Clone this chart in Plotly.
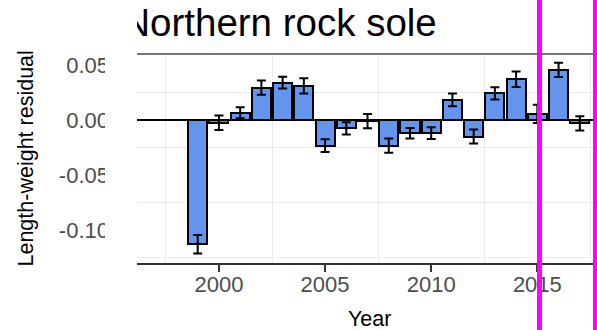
import plotly.graph_objects as go

years = list(range(1999, 2018))
residuals = [-0.113, -0.0025, 0.0066, 0.0294, 0.034, 0.031, -0.0233, -0.0076, -0.001,
             -0.0233, -0.012, -0.012, 0.0182, -0.015, 0.0242, 0.037, 0.0055, 0.0455, -0.003]
errors = [0.0084, 0.0065, 0.005, 0.0064, 0.0053, 0.007, 0.0058, 0.0055, 0.0065,
          0.0064, 0.0048, 0.0053, 0.0058, 0.0064, 0.0056, 0.007, 0.0083, 0.0065, 0.0065]
x_ticks = [2000, 2005, 2010, 2015]
y_ticks = [0.05, 0.0, -0.05, -0.10]
y_ticktext = ["0.05", "0.00", "-0.05", "-0.10"]
x_minor = [1997.5, 2002.5, 2007.5, 2012.5, 2017.5]
y_minor = [0.025, -0.025, -0.075, -0.125]
title_text = "Northern rock sole"

FONT = "Liberation Sans, Arial, sans-serif"

fig = go.Figure()
fig.add_trace(go.Bar(
    x=years, y=residuals, width=0.9,
    marker=dict(color="#6495ED", line=dict(color="black", width=2)),
    error_y=dict(type="data", array=errors, visible=True, color="black",
                 thickness=2, width=4.5),
    xaxis="x", yaxis="y", showlegend=False,
))
# Title as clipped text inside an overlay axis (so the left of the N is cut)
fig.add_trace(go.Scatter(
    x=[142.5], y=[27], mode="text", text=[title_text], textposition="middle center",
    textfont=dict(family=FONT, size=38.5, color="black"), cliponaxis=True,
    xaxis="x2", yaxis="y2", showlegend=False, hoverinfo="skip",
))

fig.update_layout(
    width=597, height=330, autosize=False,
    margin=dict(l=137, r=0, t=0, b=67, pad=0),
    paper_bgcolor="white", plot_bgcolor="white",
    font=dict(family=FONT),
    bargap=0,
    xaxis=dict(
        domain=[0, 1], range=[1996.14, 2017.81], anchor="y",
        tickmode="array", tickvals=x_ticks, ticks="outside", ticklen=7, tickwidth=2,
        tickcolor="#333333", showline=True, linecolor="#333333", linewidth=2,
        showgrid=False, zeroline=False,
        tickfont=dict(family=FONT, size=22, color="#4d4d4d"),
        ticklabelstandoff=-6,
        minor=dict(tickmode="array", tickvals=x_minor, showgrid=True,
                   gridcolor="#ebebeb", gridwidth=1.2, ticks=""),
    ),
    yaxis=dict(
        domain=[0, 209 / 263], range=[-0.13, 0.06], anchor="x",
        tickmode="array", tickvals=y_ticks, ticktext=y_ticktext, ticks="",
        showline=False, showgrid=False,
        zeroline=True, zerolinecolor="black", zerolinewidth=2,
        tickfont=dict(family=FONT, size=22, color="#4d4d4d"),
        ticklabelstandoff=27,
        minor=dict(tickmode="array", tickvals=y_minor, showgrid=True,
                   gridcolor="#ebebeb", gridwidth=1.2, ticks=""),
    ),
    xaxis2=dict(domain=[0, 1], range=[0, 460], anchor="y2", visible=False, fixedrange=True),
    yaxis2=dict(domain=[210 / 263, 1], range=[0, 53], anchor="x2", visible=False, fixedrange=True),
    annotations=[
        dict(text="Length-weight residual", textangle=-90, xref="paper", yref="paper",
             x=(25 - 137) / 460, y=(263 - 158.5) / 263, xanchor="center", yanchor="middle",
             showarrow=False, font=dict(family=FONT, size=21.5, color="black")),
        dict(text="Year", xref="paper", yref="paper",
             x=(369 - 137) / 460, y=(263 - 319) / 263, xanchor="center", yanchor="middle",
             showarrow=False, font=dict(family=FONT, size=21.5, color="black")),
    ],
    shapes=[
        dict(type="line", xref="x domain", yref="y domain", x0=0, x1=1, y0=1, y1=1,
             line=dict(color="#777777", width=2), layer="above"),
        dict(type="rect", xref="paper", yref="paper", x0=(105 - 137) / 460, x1=-0.5 / 460,
             y0=-0.26, y1=1.0, fillcolor="white", line=dict(width=0), layer="above"),
        dict(type="line", xref="paper", yref="paper",
             x0=(539.5 - 137) / 460, x1=(539.5 - 137) / 460, y0=-0.27, y1=1.01,
             line=dict(color="#FF00FF", width=5), layer="above"),
        dict(type="line", xref="paper", yref="paper",
             x0=(595.5 - 137) / 460, x1=(595.5 - 137) / 460, y0=-0.27, y1=1.01,
             line=dict(color="#FF00FF", width=5), layer="above"),
    ],
)

fig.write_html(
    "out.html",
    config={"displayModeBar": False},
    post_script="document.body.style.margin='0';document.body.style.overflow='hidden';",
)
